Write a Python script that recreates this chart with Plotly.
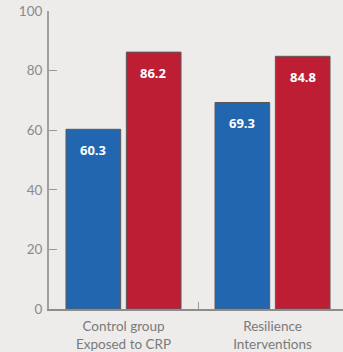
import plotly.graph_objects as go

groups = ["Control group<br>Exposed to CRP", "Resilience<br>Interventions"]
series_a = [60.3, 69.3]
series_b = [86.2, 84.8]
y_ticks = [0, 20, 40, 60, 80, 100]

blue = "#2266b0"
red = "#bd1e34"
bg = "#edecea"

bargap = 0.19
bargroupgap = 0.094
slot = (1 - bargap) / 2

xs = list(range(len(groups)))

fig = go.Figure()
for vals, col in ((series_a, blue), (series_b, red)):
    fig.add_trace(go.Bar(
        x=xs, y=vals,
        marker=dict(color=col, line=dict(color="#5a5a5a", width=1)),
        hoverinfo="skip",
    ))

# value labels near the top of each bar
for k, vals in enumerate((series_a, series_b)):
    off = (k - 0.5) * slot
    for i, v in enumerate(vals):
        fig.add_annotation(
            x=xs[i] + off, y=v, yshift=-21, text=f"<b>{v:.1f}</b>",
            showarrow=False,
            font=dict(family="Open Sans", size=13, color="white"),
        )

fig.update_layout(
    width=343, height=352,
    margin=dict(l=49, r=0, t=11, b=43),
    paper_bgcolor=bg, plot_bgcolor=bg,
    barmode="group", bargap=bargap, bargroupgap=bargroupgap,
    showlegend=False,
    xaxis=dict(
        range=[-0.5, 1.473],
        tickmode="array", tickvals=xs, ticktext=groups,
        ticks="", showgrid=False, zeroline=False,
        showline=True, linecolor="#8c8c8c", linewidth=1.5,
        tickfont=dict(family="Lato", size=13.5, color="#7a7a7a"),
        ticklabelstandoff=4,
        minor=dict(tickmode="array", tickvals=[0.5], ticks="inside",
                   ticklen=7, tickcolor="#9a9a9a", tickwidth=1, showgrid=False),
        fixedrange=True,
    ),
    yaxis=dict(
        range=[0, 100],
        tickmode="array", tickvals=y_ticks,
        ticks="inside", ticklen=8, tickcolor="#999999", tickwidth=1,
        showgrid=False, zeroline=False,
        showline=True, linecolor="#a0a0a0", linewidth=2,
        tickfont=dict(family="Lato", size=13.5, color="#8a8a8a"),
        ticklabelstandoff=2,
        fixedrange=True,
    ),
)

fig.write_html("out.html")
